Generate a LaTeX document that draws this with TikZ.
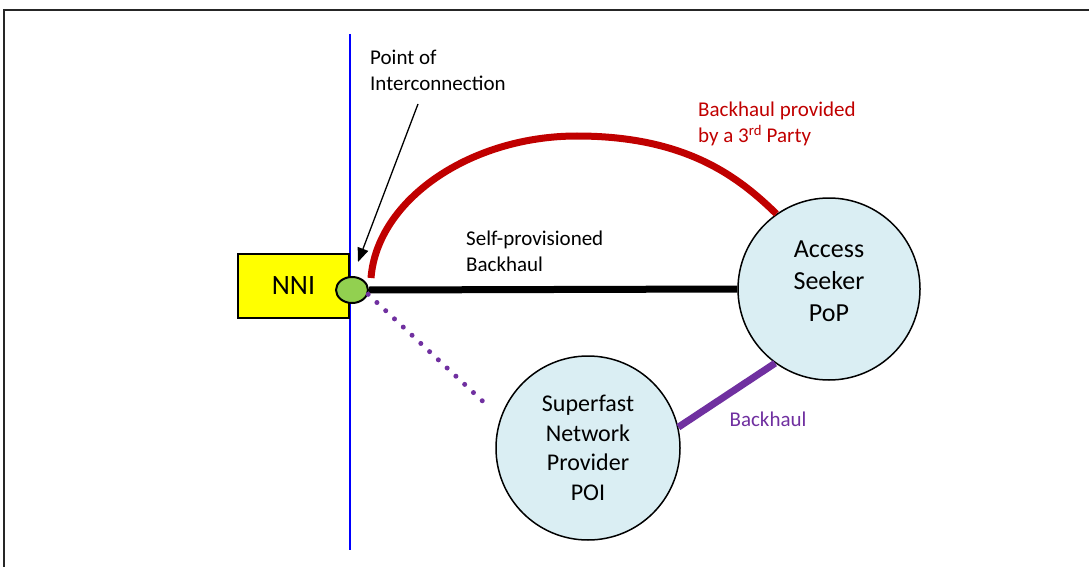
\documentclass[tikz,border=0pt]{standalone}
\usepackage{fontspec}
\setmainfont{Carlito}
\usetikzlibrary{shapes.geometric,arrows.meta,calc}

\definecolor{nniyellow}{HTML}{FFFF00}
\definecolor{poigreen}{HTML}{92D050}
\definecolor{siteblue}{HTML}{DAEEF3}
\definecolor{thirdred}{HTML}{C00000}
\definecolor{backpurple}{HTML}{7030A0}

\begin{document}
\begin{tikzpicture}[
    x=1pt, y=-1pt,
    nnibox/.style={rectangle, draw=black, line width=1.5pt, fill=nniyellow, minimum width=111pt, minimum height=64pt, font=\fontsize{28}{34}\selectfont},
    poidot/.style={ellipse, draw=black, line width=2pt, fill=poigreen, minimum width=32pt, minimum height=26pt, inner sep=0pt},
    site/.style={circle, draw=black, line width=1.5pt, fill=siteblue, align=center, inner sep=0pt, minimum size=182pt},
    textlabel/.style={align=left, inner sep=0pt, font=\fontsize{21}{26}\selectfont},
    selfline/.style={line width=7pt, black},
    thirdline/.style={line width=7pt, thirdred},
    backline/.style={line width=7pt, backpurple},
    linkdots/.style={line width=5pt, backpurple, line cap=round, dash pattern=on 0pt off 12pt},
    pointer/.style={-{Triangle[length=14pt, width=11pt]}, line width=1.3pt, black}
]
    \useasboundingbox (0,0) rectangle (1089,567);

    % frame and boundary
    \draw[line width=2pt, black!85] (4,567) -- (4,10) -- (1089,10);
    \draw[blue, line width=1.5pt] (350,34) -- (350,550);

    % Nodes
    \node[nnibox] (nni) at (293.5,286) {NNI};
    \node[poidot] (poi) at (352,290) {};
    \node[site, font=\fontsize{26}{32}\selectfont] (seeker) at (829,289) {Access\\Seeker\\PoP\rule[-16pt]{0pt}{0pt}};
    \node[site, minimum size=184pt, font=\fontsize{24}{29.5}\selectfont] (provider) at (588,448) {Superfast\\Network\\Provider\\POI};

    % Labels
    \node[textlabel, anchor=west] (poitext) at (370,70) {Point of\\Interconnection};
    \node[textlabel, anchor=west] (selftext) at (466,251) {Self-provisioned\\Backhaul};
    \node[textlabel, anchor=west, text=thirdred] (thirdtext) at (698,124) {Backhaul provided\\by a 3\textsuperscript{rd} Party};
    \node[textlabel, text=backpurple] (backtext) at (768,419) {Backhaul};

    \coordinate (pointstart) at (418,104);
    \coordinate (dotend) at (490,408);
    \coordinate (arctop) at (577,136);

    % Links
    \draw[selfline] (poi.east) -- (seeker.west);
    \draw[thirdline] ($(poi.east)+(2,-12)$) .. controls +(6,-78) and +(-107,0) .. (arctop)
        .. controls +(110,0) and +(-37,-36) .. (seeker.125);
    \draw[backline] (provider.13) -- (seeker.234);
    \draw[linkdots] (poi.-15) -- (dotend);
    \draw[pointer] (pointstart) -- ($(poi.north)+(6,-14)$);

\end{tikzpicture}
\end{document}
